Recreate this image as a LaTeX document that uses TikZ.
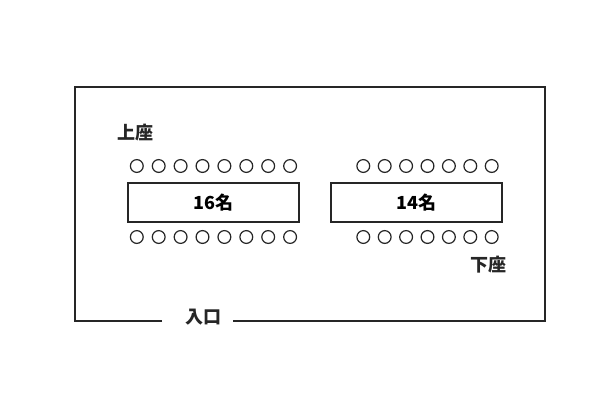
\documentclass[tikz,border=0pt]{standalone}
\usepackage{fontspec}
\newfontfamily\jp{Noto Sans CJK JP}
\usepackage{tikz}
\usetikzlibrary{positioning}

\tikzset{
	wall/.style={line width=1.5pt, color=black!85},
	tablebox/.style={draw=black!85, line width=1.1pt, minimum width=128.25pt, minimum height=29.25pt, inner sep=0pt, font=\jp\bfseries\fontsize{13.5pt}{15pt}\selectfont},
	seat/.style={draw=black!85, line width=0.9pt},
	label/.style={inner sep=0pt, text=black!85, font=\jp\bfseries\fontsize{13.5pt}{15pt}\selectfont}
}

\begin{document}
\begin{tikzpicture}[x=0.75pt, y=-0.75pt]
		\useasboundingbox[fill=white] (0,0) rectangle (609,403);
		% room
		\node[label] (door) at (203,317) {入口};
		\coordinate (gapl) at (162,321);
		\coordinate (gapr) at (233,321);
		\draw[wall] (gapl) -- (75,321) -- (75,87) -- (545,87) -- (545,321) -- (gapr);
		% tables
		\node[tablebox] (tableA) at (213.5,202.5) {16名};
		\node[tablebox] (tableB) at (416.5,202.5) {14名};
		% seats
		\foreach \i in {0,...,7} {
			\draw[seat] (136.8+21.9*\i,166) circle (4.8pt);
			\draw[seat] (136.8+21.9*\i,237) circle (4.8pt);
		}
		\foreach \i in {0,...,6} {
			\draw[seat] (363.3+21.4*\i,166) circle (4.8pt);
			\draw[seat] (363.3+21.4*\i,237) circle (4.8pt);
		}
		\node[label] (upper) at (135,133) {上座};
		\node[label] (lower) at (488,265) {下座};
	\end{tikzpicture}
\end{document}
